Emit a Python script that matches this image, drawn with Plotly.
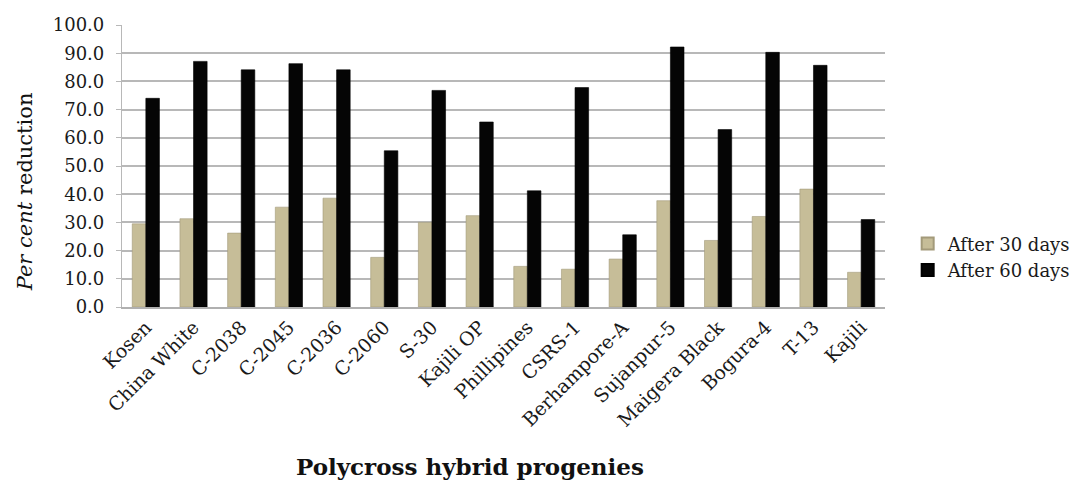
import plotly.graph_objects as go

# Polycross hybrid progenies and their per cent reduction
progenies = ["Kosen", "China White", "C-2038", "C-2045", "C-2036", "C-2060",
             "S-30", "Kajili OP", "Phillipines", "CSRS-1", "Berhampore-A",
             "Sujanpur-5", "Maigera Black", "Bogura-4", "T-13", "Kajili"]
after_30_days = [29.5, 31.3, 26.2, 35.4, 38.6, 17.6, 30.0, 32.4, 14.4, 13.4,
                 17.0, 37.7, 23.6, 32.1, 41.8, 12.3]
after_60_days = [74.0, 87.1, 84.1, 86.3, 84.1, 55.4, 76.8, 65.6, 41.2, 77.8,
                 25.6, 92.2, 62.9, 90.3, 85.7, 31.0]
y_ticks = [0, 10, 20, 30, 40, 50, 60, 70, 80, 90, 100]

SERIF = "DejaVu Serif"

fig = go.Figure()
fig.add_trace(go.Bar(
    x=progenies, y=after_30_days, name="After 30 days", legendgroup="d30",
    marker=dict(color="#c6bd98", line=dict(color="#a39a7a", width=0.6)),
))
fig.add_trace(go.Bar(
    x=progenies, y=after_60_days, name="After 60 days", legendgroup="d60",
    marker=dict(color="#050505", line=dict(color="#000000", width=0.6)),
))

fig.update_layout(
    width=1078, height=481,
    margin=dict(l=122, r=193, t=25, b=174),
    paper_bgcolor="white", plot_bgcolor="white",
    barmode="group", bargap=0.43, bargroupgap=0.0,
    font=dict(family=SERIF, color="#222222"),
    showlegend=True,
    legend=dict(
        xref="container", yref="container",
        x=0.842, y=0.466, xanchor="left", yanchor="middle",
        font=dict(family=SERIF, size=18, color="#1a1a1a"),
        bgcolor="rgba(0,0,0,0)", itemsizing="constant",
        traceorder="normal", tracegroupgap=10,
    ),
    xaxis=dict(
        tickangle=-45, tickfont=dict(family=SERIF, size=19, color="#1a1a1a"),
        showline=True, linecolor="#b0b0b0", linewidth=1.5,
        ticks="", showgrid=False,
    ),
    yaxis=dict(
        range=[0, 100], tickvals=y_ticks,
        ticktext=[f"{v:.1f}" for v in y_ticks],
        tickfont=dict(family=SERIF, size=18, color="#1a1a1a"),
        showgrid=True, gridcolor="#b8b8b8", gridwidth=1.5,
        showline=True, linecolor="#b8b8b8", linewidth=1.2,
        ticks="outside", ticklen=5, tickcolor="#b8b8b8",
        ticklabelstandoff=8, zeroline=False,
    ),
)

# Axis titles
fig.add_annotation(
    xref="paper", yref="paper", x=-0.126, y=0.41,
    text="<i>Per cent</i> reduction", textangle=-90, showarrow=False,
    font=dict(family=SERIF, size=21, color="#111111"),
    xanchor="center", yanchor="middle",
)
fig.add_annotation(
    xref="paper", yref="paper", x=0.456, y=-0.567,
    text="<b>Polycross hybrid progenies</b>", showarrow=False,
    font=dict(family=SERIF, size=23, color="#111111"),
    xanchor="center", yanchor="middle",
)

fig.write_html("out.html")
